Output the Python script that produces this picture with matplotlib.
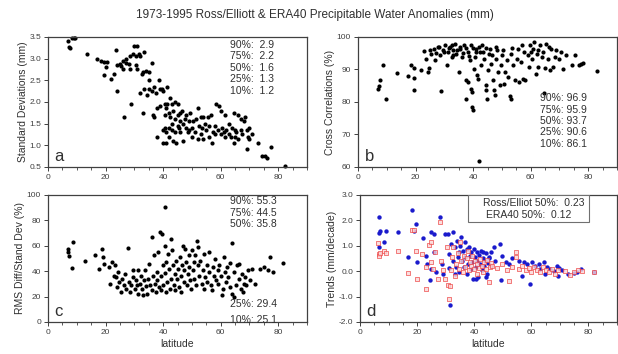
import matplotlib
matplotlib.use("Agg")
import matplotlib.pyplot as plt
from matplotlib.patches import Rectangle
from matplotlib.ticker import MultipleLocator, FormatStrFormatter

plt.rcParams['font.family'] = ['Liberation Sans', 'DejaVu Sans']

title = "1973-1995 Ross/Elliott & ERA40 Precipitable Water Anomalies (mm)"

# panel a: standard deviations (mm)
a_lat = [7, 7.5, 7.3, 8.5, 9, 9.5, 13.5, 17, 18.5, 19.5, 20, 19.5, 20.5,
         22, 23, 23.5, 24, 24, 25, 25.5, 26, 26, 27, 27, 26.5, 28, 28.5, 28.5, 29, 29.5,
         30, 30.5, 30.5, 31, 31, 31.5, 32, 32, 32.5, 33, 33, 33.5, 33.5, 34, 34.5, 35,
         35, 35, 36, 36, 36.5, 37, 37, 37.5, 38, 38, 38.5, 39, 39, 39.5, 40, 40, 40,
         40.5, 40.5, 40.5, 41, 41, 41, 41.5, 41.5, 42, 42, 42, 42.5, 42.5, 43, 43, 43,
         43.5, 43.5, 44, 44, 44, 44.5, 45, 45, 45, 45.5, 46, 46, 46, 46.5, 47, 47, 47.5,
         48, 48, 48.5, 49, 49, 49.5, 50, 50, 50.5, 51, 51.5, 52, 52, 52.5, 53, 53, 53.5,
         54, 54, 54.5, 55, 55.5, 56, 56, 56.5, 57, 57.5, 58, 58, 58.5, 59, 59.5, 60, 60,
         60.5, 61, 61.5, 61.5, 62, 63, 63, 63.5, 64, 64.5, 64.5, 65, 65, 65.5, 66, 66,
         67, 67, 67.5, 68, 68.5, 69, 69, 69.5, 70, 70, 71, 73, 74.5, 75.5, 76, 77.5, 82.5]
a_sd = [3.4, 3.25, 3.27, 3.47, 3.48, 3.48, 3.1, 3.0, 2.95, 2.92, 2.8, 2.62, 2.92,
        2.52, 2.65, 3.2, 2.85, 2.25, 2.88, 2.82, 2.75, 2.95, 3.0, 2.9, 1.65, 2.88, 2.75, 3.05, 1.95, 3.1,
        3.3, 3.05, 2.85, 2.75, 3.3, 3.1, 3.05, 2.2, 2.65, 2.7, 1.75, 3.15, 2.3, 2.72, 2.15, 2.7,
        2.5, 2.3, 2.9, 2.25, 1.7, 2.35, 1.65, 2.2, 1.85, 1.2, 2.5, 2.3, 1.9, 2.3, 2.25, 1.35, 1.05,
        1.95, 1.7, 1.4, 1.85, 1.3, 1.05, 2.35, 1.95, 1.75, 1.4, 1.2, 2.1, 1.65, 1.95, 1.5, 1.35,
        1.8, 1.1, 2.0, 1.6, 1.3, 1.05, 1.95, 1.7, 1.45, 1.4, 1.75, 1.55, 1.3, 1.8, 1.5, 1.1, 1.6,
        1.4, 1.7, 1.3, 1.55, 1.35, 1.75, 1.2, 1.4, 1.55, 1.3, 1.6, 1.85, 1.15, 1.45, 1.65, 1.25, 1.4,
        1.65, 1.15, 1.5, 1.35, 1.65, 1.45, 1.2, 1.7, 1.05, 1.3, 1.45, 1.25, 1.95, 1.35, 1.9, 1.25, 1.8,
        1.4, 1.3, 1.7, 1.2, 1.35, 1.5, 1.25, 1.2, 1.4, 1.05, 1.75, 1.2, 1.35, 1.3, 1.7, 1.15,
        1.35, 1.6, 1.25, 1.55, 1.65, 1.35, 0.92, 1.2, 1.4, 1.15, 1.25, 1.05, 0.75, 0.75, 0.7, 0.97, 0.52]
a_pct = ["90%:  2.9", "75%:  2.2", "50%:  1.6", "25%:  1.3", "10%:  1.2"]

# panel b: cross correlations (%)
b_lat = [7, 7.2, 7.5, 8.8, 9.6, 13.7, 17.3, 18.5, 19.3, 19.6, 19.5, 21.8, 22.8, 23.7, 24.2,
         24.8, 25.5, 26.3, 26.9, 27.7, 28.6, 29, 29.4, 30.4, 31, 31.3, 31.9, 32.7, 33.1, 33.6,
         34.1, 35, 35.6, 36.2, 36.8, 37.4, 37.6, 38.1, 38.3, 38.8, 39.1, 39.4, 39.5, 39.7, 40.1,
         40.3, 40.5, 40.9, 41.2, 41.8, 42.1, 42.4, 42.9, 43.2, 43.8, 44.4, 44.6, 44.7, 45.1, 45.6,
         45.9, 46.3, 47, 47.3, 47.5, 47.9, 48.2, 48.8, 49.3, 49.8, 50.2, 50.8, 51.2, 51.8, 52.2,
         52.8, 53, 53.3, 54, 54.7, 55.1, 55.6, 56.1, 56.7, 57.2, 57.7, 58.2, 59, 59.3, 59.8, 60.3,
         60.7, 61.3, 61.7, 62.1, 62.7, 63.3, 64, 64.3, 64.7, 64.9, 65.4, 66, 66.6, 67.2, 67.8,
         68.3, 68.9, 69.9, 70.7, 71.3, 72.2, 74.2, 75.4, 76.9, 77.5, 78.3, 83.2,
         25, 27, 28, 30, 31.5, 32.5, 33, 34.5, 35.5, 36.5, 37.5, 38.5, 40, 41, 42, 43.5, 44.5,
         46.5, 48, 50.5, 53.5, 57, 60, 62.5, 66.5]
b_cc = [84.1, 84.9, 86.7, 91.3, 80.8, 88.9, 87.9, 91.3, 90.6, 87.4, 83.6, 89.8, 95.6, 93.3, 89.2,
        90.5, 94.9, 96.4, 92.8, 96.9, 94.4, 83.4, 95.9, 97.4, 91.3, 95.4, 96.9, 93.8, 95.9, 97.9,
        94.9, 89.2, 96.4, 93.8, 97.4, 86.7, 81.0, 95.4, 86.2, 92.8, 97.4, 84.1, 83.1, 78.5, 77.4,
        90.3, 93.8, 96.4, 88.2, 87.2, 61.7, 95.4, 91.3, 97.4, 93.3, 83.6, 85.1, 80.8, 89.7, 94.9,
        96.4, 91.8, 86.7, 83.6, 82.1, 93.3, 95.9, 89.2, 85.1, 91.3, 94.4, 85.6, 89.2, 92.8, 87.7,
        81.7, 80.8, 94.9, 91.3, 86.7, 93.3, 96.4, 86.2, 92.3, 87.2, 95.4, 86.7, 94.4, 90.8, 97.4, 93.3,
        96.4, 98.5, 88.7, 94.9, 90.8, 97.4, 93.8, 95.4, 82.8, 90.5, 97.9, 93.3, 89.7, 96.4, 90.8,
        93.8, 95.9, 93.3, 95.4, 90.3, 94.4, 91.3, 94.4, 91.3, 91.8, 92.1, 89.5,
        96.0, 95.0, 97.0, 95.5, 96.5, 97.5, 94.5, 96.0, 97.0, 95.0, 96.5, 94.0, 96.5, 95.5, 97.0,
        95.5, 96.5, 94.5, 97.0, 96.0, 96.5, 97.5, 95.5, 96.0, 97.0]
b_pct = ["90%: 96.9", "75%: 95.9", "50%: 93.7", "25%: 90.6", "10%: 86.1"]

# panel c: rms diff / stand dev (%)
c_lat = [6.9, 7.1, 7.2, 8.8, 8.3, 12.9, 16.5, 17.7, 18.6, 19.2, 19.4, 21.1, 21.7, 22.3, 22.9,
         23.2, 23.7, 24, 24.3, 24.8, 25.4, 25.7, 26.3, 26.9, 27.2, 27.8, 28.2, 28.6, 28.9, 29.5,
         29.7, 30.1, 30.5, 30.9, 31.2, 31.4, 32, 32.3, 32.8, 33.1, 33.5, 33.7, 34.1, 34.5, 34.9,
         35.2, 35.5, 36, 36.2, 36.6, 36.8, 37.1, 37.4, 37.8, 38, 38.3, 38.6, 38.9, 39.1, 39.4,
         39.7, 39.9, 40.1, 40.5, 40.7, 40.9, 41.1, 41.4, 40.6, 41.7, 42.1, 42.4, 42.6, 42.9, 43.1,
         43.4, 43.7, 44, 44.3, 44.6, 44.9, 45.1, 45.5, 45.7, 46.1, 46.3, 46.6, 46.9, 47.2, 47.4,
         47.7, 48, 48.3, 48.6, 48.9, 49.1, 49.5, 49.7, 50.1, 50.3, 50.6, 50.9, 51.2, 51.5, 51.8,
         52, 52.2, 52.6, 52.9, 53.4, 53.7, 54.1, 54.3, 54.6, 55.1, 55.4, 55.8, 56.1, 56.6, 56.9,
         57.3, 57.7, 57.9, 58.4, 58.9, 59.2, 59.5, 60, 60.3, 60.7, 61.1, 61.5, 61.8, 62.3, 62.7,
         63.1, 63.4, 63.8, 64.1, 64.5, 64.8, 65.3, 65.7, 66.2, 66.5, 66.9, 67.3, 67.7, 68, 68.6,
         68.9, 69.4, 70.1, 70.9, 71.8, 73.7, 75.2, 76.6, 77.3, 78.1, 81.5]
c_rms = [57.6, 55, 51.8, 62.8, 42.4, 48.4, 52.9, 41.9, 57.6, 51, 45.8, 43.7, 29.6, 47.1, 36.6,
         44.5, 35.3, 27.5, 39.3, 31.4, 23.6, 34, 28.8, 38, 26.2, 58.1, 31.4, 23.6, 28.8, 35.3,
         40.6, 26.2, 32.7, 28.8, 40.6, 22.3, 30.1, 36.6, 25.7, 20.9, 32.7, 40.6, 28.3, 22.3, 34,
         45.8, 28.8, 24.9, 66.8, 36.6, 52.4, 30.1, 23.6, 39.3, 32.7, 55, 27.5, 70.7, 36.6, 24.9,
         69.4, 44.5, 28.8, 60.2, 38.7, 23.6, 47.1, 31.4, 90.8, 53.7, 41.9, 26.2, 34, 65.4, 56.3,
         44.5, 29.3, 38, 24.9, 48.4, 34, 41.4, 27.5, 51, 36.6, 23.6, 44.5, 60.2, 31.4, 40.6,
         57.6, 47.1, 28.8, 38, 52.4, 43.2, 32.7, 26.2, 56.3, 40.6, 47.1, 34, 52.4, 28.8, 64.1,
         44.5, 58.9, 36.6, 48.4, 30.1, 40.6, 26.2, 53.7, 35.3, 44.5, 31.4, 39.3, 55.5, 28.8, 24.9,
         43.2, 36.6, 49.7, 32.7, 40.6, 30.1, 44.5, 36.6, 20.9, 26.2, 51, 39.3, 31.4, 43.2, 35.3,
         27.5, 46.6, 22.3, 62.3, 19.6, 39.3, 28.8, 44.5, 34, 45.8, 26.2, 38, 23.6, 30.1, 35.3,
         28.8, 40.6, 32.7, 41.9, 30.1, 41.9, 43.2, 40.6, 51, 39.3, 46.3]
c_pct_top = ["90%: 55.3", "75%: 44.5", "50%: 35.8"]
c_pct_bot = ["25%: 29.4", "10%: 25.1"]

# panel d: trends (mm/decade), Ross/Elliott (blue) and ERA40 (red)
d_lat_re = [6.5, 6.8, 7.1, 6.8, 8.3, 9.2, 13.3, 16.8, 18.2, 19.6, 19, 20, 22, 23.2, 23.6, 24.4,
            24.8, 26, 25, 26.5, 26, 28, 28.6, 28.9, 29.8, 30.7, 31, 31.2, 31.5, 31.9, 32.4, 32.7,
            33.1, 33.3, 33.6, 33.9, 34.3, 34.5, 34.8, 35.1, 35.5, 35.7, 36, 36.3, 36.7, 36.9, 37.3,
            37.5, 37.9, 38.1, 38.5, 38.7, 39, 39.3, 39.6, 39.9, 40.2, 40.5, 40.8, 41.1, 41.4, 41.7,
            42, 42.3, 42.6, 42.9, 43.2, 43.5, 43.8, 44, 44.4, 44.8, 45.2, 45.8, 46, 47, 48.9,
            45.2, 47.3, 49.9, 51, 52.2, 53.3, 55.7, 57.4, 58.6, 59.7, 60.3, 61.4, 62.6, 63.2, 64.3,
            65.5, 66.7, 67.8, 69, 69.8, 70.7, 73, 74.8, 75.9, 77.5, 82.1, 40.6, 44.1, 49.3, 56.8,
            64.9, 69.3]
d_re = [2.15, 1.5, 1.57, 0.96, 1.14, 1.59, 1.55, 0.57, 2.42, 1.85, 1.59, 0.35, 1.3, 0.61, 0.29, -0.34,
        1.53, 1.46, 0.09, -0.04, 0.74, 2.14, 0.29, -0.1, 1.46, 1.46, 0.68, 0.12, -1.34, 1.07, 1.55, 0.42,
        -0.1, 0.94, 0.18, 1.2, 0.55, 0.74, -0.04, 1.0, 1.36, 0.42, 0.81, 0.18, 1.14, 0.55, 0.87,
        -0.1, 0.29, 0.94, 0.61, 0.09, 0.74, 0.35, -0.3, 0.87, 0.55, 0.16, 0.74, 0.42, -0.23, 0.65,
        0.29, 0.81, 0.03, 0.52, 0.74, 0.22, 0.42, 0.7, -0.1, 0.31, 0.57, 0.22, 0.74, 0.94, 1.07,
        0.52, 0.42, 0.61, 0.35, 0.29, 0.52, 0.42, 0.35, 0.29, -0.52, 0.35, 0.22, 0.29, 0.09, 0.35,
        0.18, 0.09, 0.0, 0.22, 0.13, 0.03, -0.1, -0.08, -0.04, 0.09, -0.04, -0.3, -0.23, -0.34, -0.17,
        -0.1, -0.17]
d_lat_era = [6.3, 6.5, 6.8, 7.1, 8.3, 9.2, 13.3, 16.7, 18.2, 18.8, 19.6, 20, 21.8, 23.2, 23.2, 24,
             24.8, 24.8, 25.6, 26.4, 27.4, 28, 28.2, 29.2, 29.8, 30.4, 30.7, 31.2, 31.5, 31.9, 32.1,
             32.7, 33.3, 33.7, 34.3, 34.8, 35.1, 35.5, 36, 36.3, 36.9, 37.3, 37.9, 38.1, 38.5, 39,
             39.3, 39.9, 40.2, 40.8, 41.1, 41.7, 42, 42.6, 42.9, 43.5, 44, 44.6, 45, 45.6, 46,
             46.4, 48.1, 49.9, 51.6, 52.2, 53.3, 54.5, 54.7, 55.7, 56.8, 58, 59.1, 60, 60.8, 62,
             63.2, 64, 65.2, 66.1, 67.3, 68.2, 69.3, 71.8, 73.6, 75.1, 76.4, 77.6, 82.1]
d_era = [1.11, 0.68, 0.61, 0.7, 0.81, 0.72, 0.78, -0.07, 1.62, 1.62, 0.81, -0.31, 0.68, -0.69, 0.16, 1.04,
         1.14, 0.35, 0.09, 0.74, -0.3, 1.92, 0.42, 0.03, -0.3, 0.94, -0.56, -1.08, -0.6, 0.03, 0.55,
         0.94, -0.17, 0.29, 0.7, 0.09, 1.14, 0.42, -0.04, 0.61, 0.16, 0.52, 0.81, 0.03, 0.35, 0.22,
         0.61, 0.09, 0.42, -0.1, 0.29, 0.13, 0.48, 0.22, -0.04, 0.35, 0.09, 0.44, -0.43, 0.18, 0.31,
         0.22, 0.13, 0.29, 0.05, -0.4, 0.18, 0.57, 0.74, 0.09, 0.22, 0.03, 0.13, -0.04, 0.18, 0.05,
         -0.04, 0.18, 0.05, -0.04, 0.09, -0.1, 0.03, 0.0, -0.13, -0.04, 0.03, 0.0, -0.04]
d_legend = ["Ross/Elliot 50%:  0.23", "ERA40 50%:  0.12"]

txt = '#303030'
fig = plt.figure(figsize=(6.18, 3.54), dpi=100)
fig.text(0.51, 0.958, title, ha='center', va='center', fontsize=8.5, color=txt)

W, H = 618.0, 354.0
def make_ax(l, r, t, b):
    ax = fig.add_axes([l / W, 1 - b / H, (r - l) / W, (b - t) / H])
    ax.set_xlim(0, 90)
    ax.xaxis.set_major_locator(MultipleLocator(20))
    ax.xaxis.set_minor_locator(MultipleLocator(5))
    ax.tick_params(which='major', length=3, width=0.7, labelsize=6, colors='#404040', pad=2)
    ax.tick_params(which='minor', length=2, width=0.6, colors='#404040')
    for s in ax.spines.values():
        s.set_color('#404040')
        s.set_linewidth(0.9)
    return ax

dot = dict(s=9, c='black', linewidths=0)
pfs = 7.5

ax = make_ax(48, 307, 37, 167)
ax.scatter(a_lat, a_sd, clip_on=False, **dot)
ax.set_ylim(0.5, 3.5)
ax.yaxis.set_major_locator(MultipleLocator(0.5))
ax.yaxis.set_major_formatter(FormatStrFormatter('%.1f'))
ax.set_ylabel("Standard Deviations (mm)", fontsize=7.5, color=txt, labelpad=1)
for i, s in enumerate(a_pct):
    ax.text(0.703, 0.94 - i * 0.088, s, transform=ax.transAxes, fontsize=pfs, color=txt, va='center')
ax.text(0.025, 0.08, "a", transform=ax.transAxes, fontsize=12, color=txt, va='center')

ax = make_ax(358, 617, 37, 167)
ax.scatter(b_lat, b_cc, clip_on=False, **dot)
ax.set_ylim(60, 100)
ax.yaxis.set_major_locator(MultipleLocator(10))
ax.set_ylabel("Cross Correlations (%)", fontsize=7.5, color=txt, labelpad=1)
for i, s in enumerate(b_pct):
    ax.text(0.703, 0.53 - i * 0.088, s, transform=ax.transAxes, fontsize=pfs, color=txt, va='center')
ax.text(0.025, 0.08, "b", transform=ax.transAxes, fontsize=12, color=txt, va='center')

ax = make_ax(48, 307, 195, 322)
ax.scatter(c_lat, c_rms, clip_on=False, **dot)
ax.set_ylim(0, 100)
ax.yaxis.set_major_locator(MultipleLocator(20))
ax.set_ylabel("RMS Diff/Stand Dev (%)", fontsize=7.5, color=txt, labelpad=1)
ax.set_xlabel("latitude", fontsize=7.5, color=txt, labelpad=2)
for i, s in enumerate(c_pct_top):
    ax.text(0.703, 0.95 - i * 0.09, s, transform=ax.transAxes, fontsize=pfs, color=txt, va='center')
for i, s in enumerate(c_pct_bot):
    ax.text(0.703, 0.14 - i * 0.125, s, transform=ax.transAxes, fontsize=pfs, color=txt, va='center')
ax.text(0.025, 0.08, "c", transform=ax.transAxes, fontsize=12, color=txt, va='center')

ax = make_ax(360, 617, 195, 322)
ax.scatter(d_lat_re, d_re, s=10, c='#1a1acc', linewidths=0, clip_on=False)
ax.scatter(d_lat_era, d_era, s=10, marker='s', facecolors='#fbd6d6', edgecolors='#ee4444',
           linewidths=0.6, alpha=0.8, clip_on=False)
ax.set_ylim(-2, 3)
ax.yaxis.set_major_locator(MultipleLocator(1))
ax.yaxis.set_major_formatter(FormatStrFormatter('%.1f'))
ax.set_ylabel("Trends (mm/decade)", fontsize=7.5, color=txt, labelpad=1)
ax.set_xlabel("latitude", fontsize=7.5, color=txt, labelpad=2)
ax.add_patch(Rectangle((0.42, 0.787), 0.47, 0.213, transform=ax.transAxes, facecolor='white',
                       edgecolor='#707070', linewidth=0.8, zorder=3))
ax.text(0.478, 0.935, d_legend[0], transform=ax.transAxes, fontsize=pfs, color=txt,
        va='center', zorder=4)
ax.text(0.49, 0.845, d_legend[1], transform=ax.transAxes, fontsize=pfs, color=txt,
        va='center', zorder=4)
ax.text(0.025, 0.08, "d", transform=ax.transAxes, fontsize=12, color=txt, va='center')

fig.savefig("out.png", dpi=100)
